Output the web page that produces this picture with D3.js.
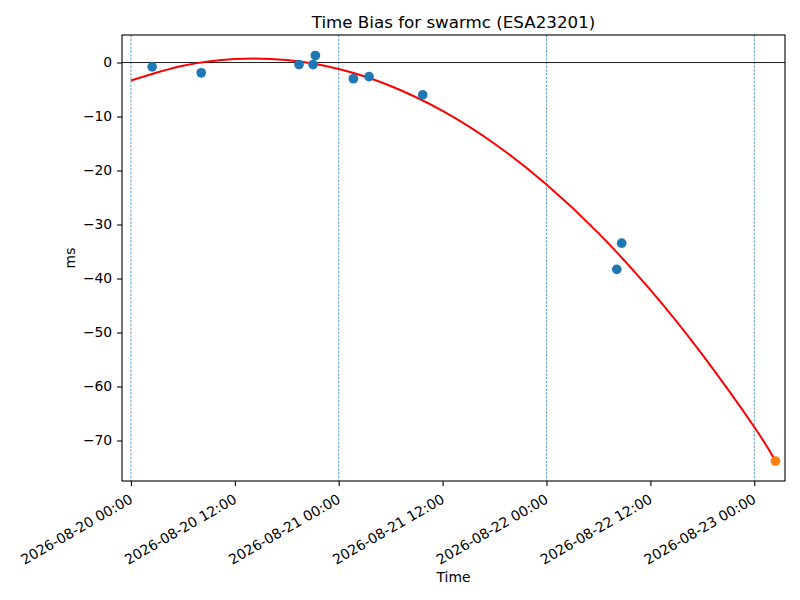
<!DOCTYPE html>
<html>
<head>
<meta charset="utf-8">
<script src="https://cdn.jsdelivr.net/npm/d3@7"></script>
<style>
  body { margin: 0; background: #fff; }
  text { font-family: "DejaVu Sans", sans-serif; }
</style>
</head>
<body>
<svg id="chart" width="800" height="600"></svg>
<script>
// measured time bias samples (UTC)
const obsTimes = ["2026-08-20T02:27", "2026-08-20T08:07", "2026-08-20T19:25", "2026-08-20T21:02",
    "2026-08-20T21:18", "2026-08-21T01:42", "2026-08-21T03:30", "2026-08-21T09:42",
    "2026-08-22T08:07", "2026-08-22T08:41"]
const obsValues = [-0.8, -1.9, -0.37, -0.37, 1.3, -3.0, -2.6, -6.0, -38.3, -33.45]

// predicted point
const predTimes = ["2026-08-23T02:27"]
const predValues = [-73.8]

const fitTimes = ["2026-08-20T00:00", "2026-08-20T06:00", "2026-08-20T12:00", "2026-08-20T18:00",
    "2026-08-21T00:00", "2026-08-21T06:00", "2026-08-21T12:00", "2026-08-21T18:00",
    "2026-08-22T00:00", "2026-08-22T06:00", "2026-08-22T12:00", "2026-08-22T18:00",
    "2026-08-23T00:00", "2026-08-23T02:27"]
const fitValues = [-3.34, -0.6, 0.67, 0.46, -1.21, -4.35, -8.97, -15.05,
    -22.6, -31.6, -42.1, -54.1, -67.5, -73.8]

const dayLines = ["2026-08-20T00:00", "2026-08-21T00:00", "2026-08-22T00:00", "2026-08-23T00:00"]
const yTicks = [0, -10, -20, -30, -40, -50, -60, -70]

const parse = d3.utcParse("%Y-%m-%dT%H:%M")
const fmt = d3.utcFormat("%Y-%m-%d %H:%M")

const margin = { top: 35, right: 15, bottom: 119, left: 122 }
const width = 800 - margin.left - margin.right
const height = 600 - margin.top - margin.bottom

const svgContainer = d3.select("#chart")
const g = svgContainer.append("g")
    .attr("transform", `translate(${margin.left},${margin.top})`)

const x = d3.scaleUtc()
    .domain([parse("2026-08-19T22:58"), parse("2026-08-23T03:33")])
    .range([0, width])
const y = d3.scaleLinear()
    .domain([-77.5, 5.1])
    .range([height, 0])

// daily dashed lines
g.selectAll(".day")
    .data(dayLines)
    .enter()
    .append("line")
    .attr("x1", d => x(parse(d)))
    .attr("x2", d => x(parse(d)))
    .attr("y1", 0)
    .attr("y2", height)
    .style("stroke", "#1f77b4")
    .style("stroke-width", 0.7)
    .style("stroke-dasharray", "2.6,1.2")

// zero line
g.append("line")
    .attr("x1", 0)
    .attr("x2", width)
    .attr("y1", y(0))
    .attr("y2", y(0))
    .style("stroke", "black")
    .style("stroke-width", 0.9)

// fit
const fitLine = d3.line()
    .x((d, i) => x(parse(fitTimes[i])))
    .y(d => y(d))
    .curve(d3.curveNatural)

g.append("path")
    .datum(fitValues)
    .attr("d", fitLine)
    .style("fill", "none")
    .style("stroke", "#ff0000")
    .style("stroke-width", 2)

g.selectAll(".obs")
    .data(obsValues)
    .enter()
    .append("circle")
    .attr("cx", (d, i) => x(parse(obsTimes[i])))
    .attr("cy", d => y(d))
    .attr("r", 4.85)
    .style("fill", "#1f77b4")

g.selectAll(".pred")
    .data(predValues)
    .enter()
    .append("circle")
    .attr("cx", (d, i) => x(parse(predTimes[i])))
    .attr("cy", d => y(d))
    .attr("r", 4.85)
    .style("fill", "#ff7f0e")

// axes
const xAxis = g.append("g")
    .attr("transform", `translate(0,${height})`)
    .call(d3.axisBottom(x)
        .ticks(d3.utcHour.every(12))
        .tickFormat(fmt)
        .tickSizeOuter(0)
        .tickSize(4.9))
xAxis.selectAll("text")
    .style("font-size", "14px")
    .style("fill", "black")
    .attr("text-anchor", "end")
    .attr("dy", "0.9em")
    .attr("y", 0)
    .attr("x", 0)
    .attr("transform", "translate(-4,10) rotate(-30)")

const yAxis = g.append("g")
    .call(d3.axisLeft(y)
        .tickValues(yTicks)
        .tickSizeOuter(0)
        .tickSize(4.9)
        .tickPadding(4.9))
yAxis.selectAll("text")
    .style("font-size", "13.9px")
    .style("fill", "black")

svgContainer.selectAll(".domain").remove()
svgContainer.selectAll(".tick line").style("stroke", "black").style("stroke-width", 1.1)

// frame
g.append("rect")
    .attr("width", width)
    .attr("height", height)
    .style("fill", "none")
    .style("stroke", "black")
    .style("stroke-width", 1.1)

// labels
svgContainer.append("text")
    .attr("x", margin.left + width / 2)
    .attr("y", 28)
    .attr("text-anchor", "middle")
    .style("font-size", "16.7px")
    .text("Time Bias for swarmc (ESA23201)")

svgContainer.append("text")
    .attr("x", margin.left + width / 2)
    .attr("y", 582)
    .attr("text-anchor", "middle")
    .style("font-size", "13.9px")
    .text("Time")

svgContainer.append("text")
    .attr("transform", `translate(75,${margin.top + height / 2}) rotate(-90)`)
    .attr("text-anchor", "middle")
    .style("font-size", "13.9px")
    .text("ms")
</script>
</body>
</html>
